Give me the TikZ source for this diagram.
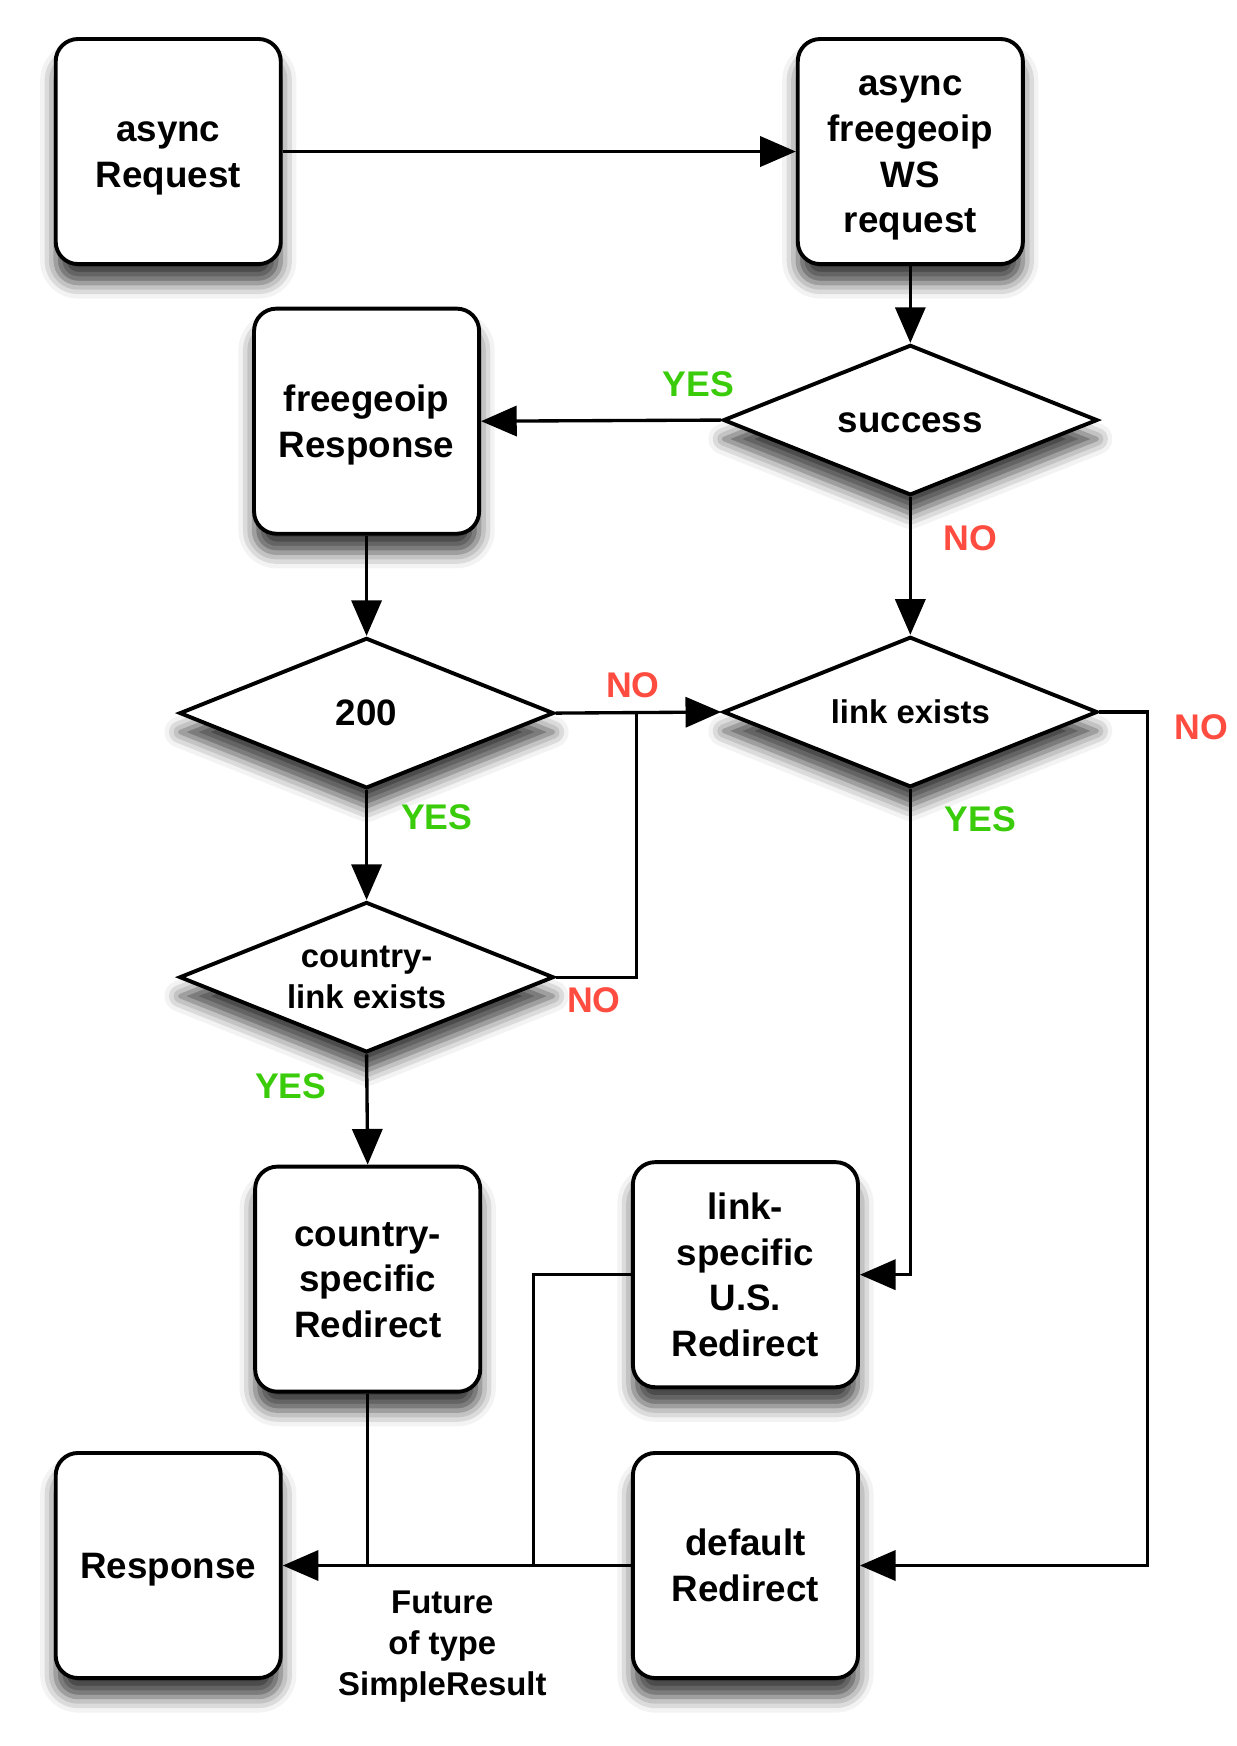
\documentclass[tikz,border=0pt]{standalone}
\usepackage{fontspec}
\setmainfont{Liberation Sans}
\usetikzlibrary{shapes.geometric,arrows.meta,shadows.blur}
\definecolor{yesgreen}{RGB}{58,204,10}
\definecolor{nored}{RGB}{255,76,64}
\newcommand\myfl{\vphantom{R}}
\newcommand\myll[1]{\raisebox{0pt}[\height][0pt]{#1}}
\tikzset{
  shad/.style={blur shadow={shadow xshift=0pt,shadow yshift=-17pt,shadow blur radius=14pt,shadow opacity=75}},
  boxnode/.style={draw,line width=3.5pt,rounded corners=20pt,fill=white,minimum width=202pt,minimum height=202pt,inner sep=0pt,align=center,font=\fontsize{33}{41}\selectfont\bfseries,shad},
  dianode/.style={draw,diamond,aspect=2.5,line width=3.5pt,fill=white,minimum width=336pt,minimum height=135pt,inner sep=0pt,align=center,shad},
  bigtxt/.style={font=\fontsize{33}{41}\selectfont\bfseries},
  smalltxt/.style={font=\fontsize{29.5}{37}\selectfont\bfseries},
  conn/.style={line width=3pt},
  arr/.style={line width=3pt,-{Triangle[length=32pt,width=27pt]}},
  yeslbl/.style={text=yesgreen,font=\fontsize{32}{38}\selectfont\bfseries,inner sep=0pt},
  nolbl/.style={text=nored,font=\fontsize{32}{38}\selectfont\bfseries,inner sep=0pt},
}
\begin{document}
\begin{tikzpicture}[x=1pt,y=-1pt]
\useasboundingbox (0,0) rectangle (1110,1567);
% nodes
\node[boxnode] (areq) at (151,136) {\myfl async\\\myll{Request}};
\node[boxnode] (ws) at (817,136) {\myfl async\\freegeoip\\WS\\\myll{request}};
\node[dianode,bigtxt] (succ) at (817,377) {\myfl\myll{success}};
\node[boxnode] (fresp) at (329,378) {\myfl freegeoip\\\myll{Response}};
\node[dianode,bigtxt] (d200) at (329,640) {200};
\node[dianode,smalltxt] (dlink) at (817,639) {link exists};
\node[dianode,smalltxt] (dcountry) at (329,877) {\myfl country-\\link exists};
\node[boxnode] (credir) at (330,1148) {\myfl country-\\specific\\\myll{Redirect}};
\node[boxnode] (lredir) at (669,1144) {\myfl link-\\specific\\U.S.\\\myll{Redirect}};
\node[boxnode] (dredir) at (669,1405) {\myfl default\\\myll{Redirect}};
\node[boxnode] (resp) at (151,1405) {\myfl\myll{Response}};
% junction coordinates
\coordinate (j1) at (571,639);
\coordinate (j2) at (1030,639);
\coordinate (j3) at (479,1405);
\coordinate (j4) at (330,1405);
% connectors
\draw[arr] (areq) -- (ws);
\draw[arr] (ws) -- (succ.north);
\draw[arr] (succ.west) -- (fresp.east);
\draw[arr] (succ.south) -- (dlink.north);
\draw[arr] (fresp) -- (d200.north);
\draw[arr] (d200.east) -- (dlink.west);
\draw[arr] (d200.south) -- (dcountry.north);
\draw[conn] (dcountry.east) -| (j1);
\draw[arr] (dcountry.south) -- (credir.north);
\draw[arr] (dlink.south) |- (lredir.east);
\draw[arr] (dlink.east) -- (j2) |- (dredir.east);
\draw[arr] (dredir.west) -- (resp.east);
\draw[conn] (credir.south) -- (j4);
\draw[conn] (lredir.west) -| (j3);
% labels
\node[yeslbl] (l1) at (627,345) {YES};
\node[nolbl] (l2) at (871,483) {NO};
\node[nolbl] (l3) at (568,615) {NO};
\node[yeslbl] (l4) at (392,733) {YES};
\node[yeslbl] (l5) at (880,735) {YES};
\node[nolbl] (l6) at (1078,653) {NO};
\node[nolbl] (l7) at (533,898) {NO};
\node[yeslbl] (l8) at (261,975) {YES};
\node[smalltxt,align=center,inner sep=0pt] (fut) at (397,1478) {Future\\of type\\SimpleResult};
\end{tikzpicture}
\end{document}
